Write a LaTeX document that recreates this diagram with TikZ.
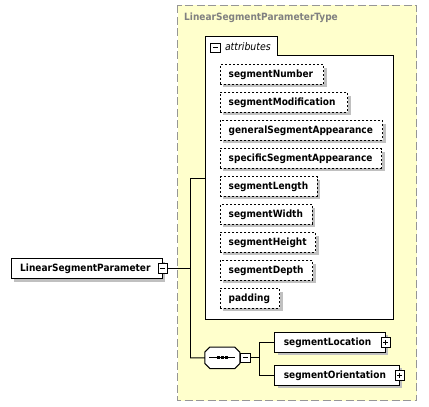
\documentclass[tikz,border=0pt]{standalone}
\usepackage{fontspec}
\setmainfont{DejaVu Sans Condensed}
\usetikzlibrary{shadows,calc}
\definecolor{bgyellow}{RGB}{255,255,204}
\definecolor{bordergray}{RGB}{150,150,150}
\definecolor{titlegray}{RGB}{128,128,128}
\definecolor{shadowgray}{RGB}{192,192,192}
\begin{document}
\begin{tikzpicture}[x=1pt,y=-1pt,line width=1pt,
  shadowed/.style={drop shadow={shadow xshift=3pt,shadow yshift=-3pt,fill=shadowgray,opacity=1}},
  lbl/.style={font=\fontsize{10}{12}\selectfont\bfseries},
  attr/.style={draw,dash pattern=on 2pt off 2pt,fill=white,shadowed,minimum height=19.5pt,
    inner xsep=8.5pt,inner ysep=0pt,anchor=west,lbl,align=left},
  elem/.style={draw,fill=white,shadowed,minimum height=20pt,inner xsep=9pt,inner ysep=0pt,
    anchor=west,lbl,align=left},
  pm/.style={draw,fill=white,minimum size=9.5pt,inner sep=0pt,line width=0.8pt},
  minusbox/.style={pm,path picture={\draw[line width=0.8pt]
    ([xshift=2pt]path picture bounding box.west) -- ([xshift=-2pt]path picture bounding box.east);}},
  plusbox/.style={pm,path picture={\draw[line width=0.8pt]
    ([xshift=2pt]path picture bounding box.west) -- ([xshift=-2pt]path picture bounding box.east)
    ([yshift=-2pt]path picture bounding box.north) -- ([yshift=2pt]path picture bounding box.south);}}
]
\useasboundingbox (0,0) rectangle (429,407);

% complex type container
\draw[bordergray,dash pattern=on 8pt off 3.5pt,fill=bgyellow] (177.7,5.3) rectangle (416.7,400.8);
\node[anchor=west,inner sep=0pt,text=titlegray,lbl] (title) at (183.7,18) {LinearSegmentParameterType};

% attributes group
\draw[fill=white] (205.3,319.3) -- (205.3,36) -- (277.3,36) -- (277.3,55.3)
  -- (393.7,55.3) -- (393.7,319.3) -- cycle;
\node[minusbox] (mattr) at (215.5,47.8) {};
\node[anchor=west,inner sep=0pt,font=\fontsize{10.4}{12}\selectfont\itshape] (attrlabel) at (224.5,47) {attributes};
\coordinate (attrw) at (205.3,178.3);

\foreach \nm/\w [count=\i from 0] in {segmentNumber/103.6,segmentModification/127.3,
  generalSegmentAppearance/162.3,specificSegmentAppearance/161.3,segmentLength/97,
  segmentWidth/92,segmentHeight/95.3,segmentDepth/92.3,padding/59.3}
  \node[attr,text width=\w pt-17pt] (a\i) at (219.7,74.3+28*\i) {\mbox{\nm}};

% root element
\node[elem,text width=133pt] (lsp) at (10.7,268.5) {\mbox{LinearSegmentParameter}};
\node[minusbox] (mlsp) at (lsp.east) {};

% trunk
\coordinate (ta) at (190.3,178.3);
\coordinate (tb) at (190.3,358);
\draw (mlsp.east) -- (mlsp.east -| ta);
\draw (ta) -- (tb);
\draw (ta) -- (attrw);

% sequence compositor (octagon)
\node[minimum width=34pt,minimum height=20.4pt,inner sep=0pt] (seq) at (222.3,357.8) {};
\fill[shadowgray,shift={(3,3)}] ($(seq.north west)+(0,5)$) -- ($(seq.north west)+(5,0)$)
  -- ($(seq.north east)+(-5,0)$) -- ($(seq.north east)+(0,5)$) -- ($(seq.south east)+(0,-5)$)
  -- ($(seq.south east)+(-5,0)$) -- ($(seq.south west)+(5,0)$) -- ($(seq.south west)+(0,-5)$) -- cycle;
\draw[fill=white] ($(seq.north west)+(0,5)$) -- ($(seq.north west)+(5,0)$)
  -- ($(seq.north east)+(-5,0)$) -- ($(seq.north east)+(0,5)$) -- ($(seq.south east)+(0,-5)$)
  -- ($(seq.south east)+(-5,0)$) -- ($(seq.south west)+(5,0)$) -- ($(seq.south west)+(0,-5)$) -- cycle;
\draw ([xshift=4.5pt]seq.west) -- ([xshift=-4.5pt]seq.east);
\foreach \dx in {-4.3,0,4.3}
  \fill ($(seq.center)+(\dx-1.5,-1.5)$) rectangle +(3,3);
\draw (tb) -- (seq.west);
\node[minusbox,anchor=west] (mseq) at ([xshift=0.6pt]seq.east) {};

% branch
\coordinate (ba) at (259.3,342.3);
\coordinate (bb) at (259.3,375.3);
\draw (mseq.east) -- (mseq.east -| ba);
\draw (ba) -- (bb);

\node[elem,text width=92.4pt] (loc) at (274.3,342.3) {\mbox{segmentLocation}};
\node[plusbox] (ploc) at (loc.east) {};
\node[elem,text width=106.4pt] (ori) at (274.3,375.3) {\mbox{segmentOrientation}};
\node[plusbox] (pori) at (ori.east) {};
\draw (ba) -- (loc.west);
\draw (bb) -- (ori.west);
\end{tikzpicture}
\end{document}
